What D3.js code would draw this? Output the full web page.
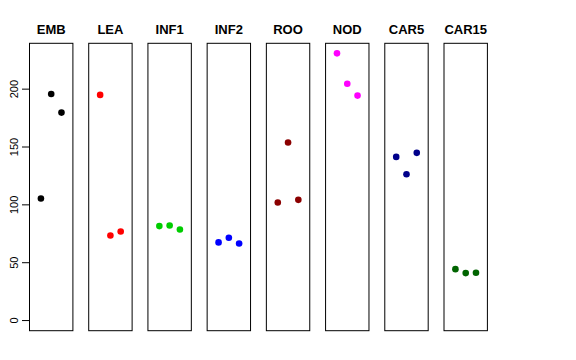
<!DOCTYPE html>
<html><head><meta charset="utf-8">
<script src="https://cdn.jsdelivr.net/npm/d3@7"></script>
<style>body{margin:0;background:#fff}svg{display:block}</style>
</head><body>
<svg id="c" width="576" height="360"></svg>
<script>
const categories = ["EMB","LEA","INF1","INF2","ROO","NOD","CAR5","CAR15"];
const colors = ["#000000","#FF0000","#00CD00","#0000FF","#8B0000","#FF00FF","#00008B","#006400"];
const EMB = [105, 195.4, 179.3];
const LEA = [194.6, 73.1, 76.6];
const INF1 = [81.2, 81.7, 78.3];
const INF2 = [67.1, 71.1, 66.2];
const ROO = [101.6, 153.4, 103.9];
const NOD = [230.5, 204.3, 194.0];
const CAR5 = [141.0, 126.0, 144.5];
const CAR15 = [44.0, 40.6, 40.9];
const series = [EMB, LEA, INF1, INF2, ROO, NOD, CAR5, CAR15];
const yTicks = [0, 50, 100, 150, 200];

const svg = d3.select("#c");
const plotTop = 43.3, plotBottom = 330.7;
const y = d3.scaleLinear().domain([-9.2, 239.2]).range([plotBottom, plotTop]);
const panelX = d3.scalePoint().domain(categories).range([29, 443.5]);
const pw = 44.4;

// y axis (ticks only, no domain line)
const ax = svg.append("g").attr("transform", "translate(29,0)")
  .call(d3.axisLeft(y).tickValues(yTicks).tickSize(7).tickPadding(0).tickFormat(d3.format("d")));
ax.select(".domain").remove();
ax.selectAll(".tick line").attr("stroke", "#000");
ax.selectAll(".tick text").remove();
ax.selectAll(".tick").append("text")
  .attr("transform", "translate(-15,0) rotate(-90)")
  .attr("text-anchor", "middle").attr("dy", "0.35em")
  .attr("fill", "#000")
  .style("font-family", "Liberation Sans, Arial, sans-serif").style("font-size", "11px")
  .text(d => d);

categories.forEach((cat, i) => {
  const x0 = panelX(cat);
  const x = d3.scaleLinear().domain([-0.16, 4.16]).range([x0, x0 + pw]);
  const g = svg.append("g");
  g.append("rect").attr("x", x0 + 0.5).attr("y", plotTop).attr("width", pw - 1).attr("height", plotBottom - plotTop)
    .attr("fill", "none").attr("stroke", "#000").attr("stroke-width", 1);
  g.append("text").attr("x", x0 + pw / 2).attr("y", 34).attr("text-anchor", "middle")
    .style("font-family", "Liberation Sans, Arial, sans-serif").style("font-size", "13px").style("font-weight", "bold")
    .text(cat);
  g.selectAll("circle").data(series[i]).join("circle")
    .attr("cx", (d, j) => x(j + 1)).attr("cy", d => y(d)).attr("r", 3.3)
    .attr("fill", colors[i]);
});
</script>
</body></html>
